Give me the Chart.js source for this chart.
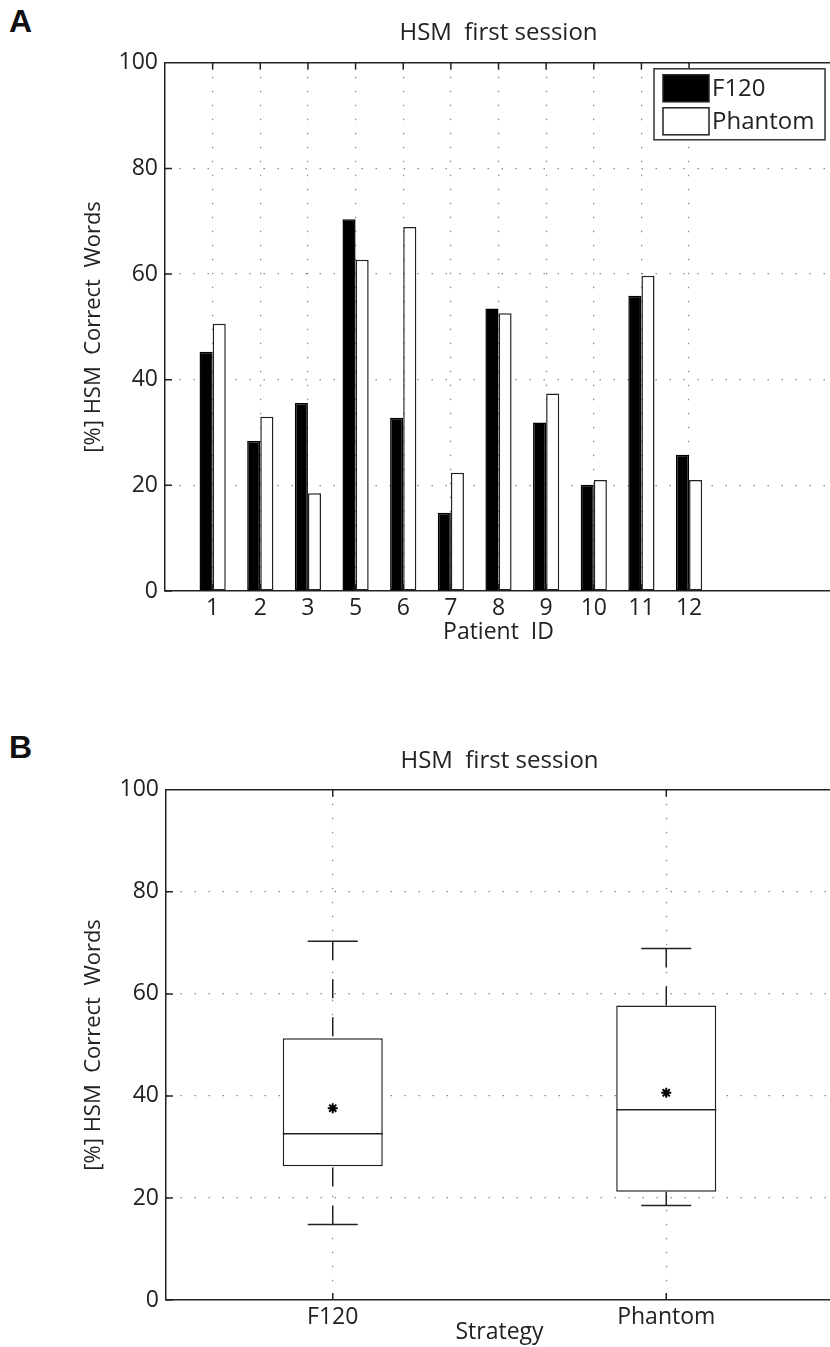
<!DOCTYPE html>
<html>
<head>
<meta charset="utf-8">
<title>HSM first session</title>
<script src="https://cdn.jsdelivr.net/npm/chart.js@4.4.1/dist/chart.umd.min.js"></script>
<style>
    html, body { margin: 0; padding: 0; background: #fff; overflow: hidden; width: 830px; height: 1347px; }
    canvas { position: absolute; left: 0; }
    .panel { position: absolute; left: 9px; font-family: "Liberation Sans", Arial, sans-serif; font-weight: bold; font-size: 32px; color: #111; }
</style>
</head>
<body>
<div class="panel" style="top:3px;">A</div>
<canvas id="bar-chart" width="832" height="660" style="top:0;"></canvas>
<div class="panel" style="top:729px;">B</div>
<canvas id="box-chart" width="840" height="647" style="top:700px;"></canvas>
<script>
// Panel A: percent of correct words per patient
var patientIds = ['1', '2', '3', '5', '6', '7', '8', '9', '10', '11', '12'];
var f120Scores = [45.3, 28.4, 35.6, 70.4, 32.8, 14.8, 53.5, 31.9, 20.1, 55.9, 25.8];
var phantomScores = [50.6, 33.0, 18.5, 62.7, 68.9, 22.4, 52.6, 37.4, 21.0, 59.7, 21.0];
var yTicks = [0, 20, 40, 60, 80, 100];

// Panel B: box plot summary per strategy
var strategies = ['F120', 'Phantom'];
var whiskerLow = [14.8, 18.5];
var quartileLow = [26.2, 21.2];
var medians = [32.6, 37.3];
var quartileHigh = [51.3, 57.7];
var whiskerHigh = [70.3, 68.9];
var means = [37.6, 40.6];

var TITLE = 'HSM  first session';
var Y_LABEL = '[%] HSM  Correct  Words';
var INK = '#222';
var TICK_LEN = 7;

Chart.defaults.font.family = "'Open Sans', 'Noto Sans', sans-serif";
Chart.defaults.font.size = 23;
Chart.defaults.color = INK;
Chart.defaults.animation = false;

var dotted = { color: '#8a8a8a', lineWidth: 1.2, drawTicks: false };

function yScale(areaLeft) {
    return {
        min: 0, max: 100,
        afterBuildTicks: function(scale) { scale.ticks = yTicks.map(v => ({ value: v })); },
        afterFit: function(scale) { scale.width = areaLeft; },
        ticks: { padding: 7, color: INK },
        grid: Object.assign({}, dotted, {
            color: ctx => (ctx.tick && (ctx.tick.value === 0 || ctx.tick.value === 100)) ? 'rgba(0,0,0,0)' : '#8a8a8a'
        }),
        border: { color: INK, width: 1.5, dash: [1.5, 12.5] },
        title: { display: true, text: Y_LABEL, color: INK, font: { size: 22 }, padding: { top: 81, bottom: 0 } }
    };
}

// box, top edge and inward tick marks like a MATLAB axes
var matlabAxes = {
    id: 'matlabAxes',
    afterDraw: function(chart) {
        var ctx = chart.ctx, a = chart.chartArea, x = chart.scales.x, y = chart.scales.y;
        ctx.save();
        ctx.strokeStyle = INK;
        ctx.lineWidth = 1.5;
        ctx.beginPath();
        ctx.moveTo(a.left, a.top);
        ctx.lineTo(a.right, a.top);
        x.ticks.forEach(function(t) {
            var px = x.getPixelForValue(t.value);
            ctx.moveTo(px, a.bottom); ctx.lineTo(px, a.bottom - TICK_LEN);
            ctx.moveTo(px, a.top); ctx.lineTo(px, a.top + TICK_LEN);
        });
        y.ticks.forEach(function(t) {
            var py = y.getPixelForValue(t.value);
            ctx.moveTo(a.left, py); ctx.lineTo(a.left + TICK_LEN, py);
        });
        ctx.stroke();

        // legend box in the upper right corner
        var lg = chart.options.plugins.matlabLegend;
        if (lg && lg.display) {
            var left = a.right - 178, top = a.top + 6;
            ctx.fillStyle = '#fff';
            ctx.fillRect(left, top, 171, 71);
            ctx.strokeStyle = '#333';
            ctx.strokeRect(left, top, 171, 71);
            ctx.font = "24px 'Open Sans', sans-serif";
            ctx.textBaseline = 'middle';
            chart.data.datasets.forEach(function(ds, i) {
                var sy = top + 6 + i * 33;
                ctx.fillStyle = ds.backgroundColor;
                ctx.fillRect(left + 9, sy, 46, 27);
                ctx.strokeStyle = INK;
                ctx.strokeRect(left + 9, sy, 46, 27);
                ctx.fillStyle = INK;
                ctx.fillText(ds.label, left + 58, sy + 14);
            });
        }
        ctx.restore();
    }
};

new Chart(document.getElementById('bar-chart'), {
    type: 'bar',
    data: {
        datasets: [
            {
                label: 'F120',
                data: f120Scores.map((v, i) => ({ x: i + 1, y: v })),
                backgroundColor: '#000',
                borderColor: '#000',
                borderWidth: 1.5,
                borderSkipped: false
            },
            {
                label: 'Phantom',
                data: phantomScores.map((v, i) => ({ x: i + 1, y: v })),
                backgroundColor: '#fff',
                borderColor: INK,
                borderWidth: 1.5,
                borderSkipped: false
            }
        ]
    },
    options: {
        responsive: false,
        categoryPercentage: 0.55,
        barPercentage: 1.0,
        layout: { padding: { left: 0, right: 0, top: 0, bottom: 14 } },
        scales: {
            x: {
                type: 'linear',
                min: 0, max: 14,
                offset: false,
                afterBuildTicks: function(scale) { scale.ticks = patientIds.map((id, i) => ({ value: i + 1 })); },
                afterFit: function(scale) { scale.height = 55; },
                ticks: { padding: 4, maxRotation: 0, autoSkip: false, color: INK, callback: v => patientIds[v - 1] || '' },
                grid: Object.assign({}, dotted, { offset: false }),
                border: { color: INK, width: 1.5, dash: [1.5, 12.5] },
                title: { display: true, text: 'Patient  ID', color: INK, padding: { top: 0, bottom: 0 } }
            },
            y: yScale(165)
        },
        plugins: {
            legend: { display: false },
            tooltip: { enabled: false },
            matlabLegend: { display: true },
            title: {
                display: true, text: TITLE, fullSize: false, color: INK,
                font: { size: 24, weight: 'normal' },
                padding: { top: 19, bottom: 15 }
            }
        }
    },
    plugins: [matlabAxes]
});

// whiskers, caps and median lines of the box plot
var boxParts = {
    id: 'boxParts',
    afterDatasetsDraw: function(chart) {
        var ctx = chart.ctx, x = chart.scales.x, y = chart.scales.y;
        ctx.save();
        ctx.strokeStyle = INK;
        ctx.lineWidth = 1.5;
        strategies.forEach(function(s, i) {
            var cx = x.getPixelForValue(i + 1);
            var halfBox = (x.getPixelForValue(i + 1.15) - cx);
            var halfCap = halfBox / 2;
            // dashed whiskers
            ctx.setLineDash([19, 19]);
            ctx.beginPath();
            ctx.moveTo(cx, y.getPixelForValue(whiskerHigh[i]));
            ctx.lineTo(cx, y.getPixelForValue(quartileHigh[i]));
            ctx.moveTo(cx, y.getPixelForValue(whiskerLow[i]));
            ctx.lineTo(cx, y.getPixelForValue(quartileLow[i]));
            ctx.stroke();
            ctx.setLineDash([]);
            ctx.beginPath();
            [whiskerHigh[i], whiskerLow[i]].forEach(function(v) {
                var py = y.getPixelForValue(v);
                ctx.moveTo(cx - halfCap, py); ctx.lineTo(cx + halfCap, py);
            });
            var pm = y.getPixelForValue(medians[i]);
            ctx.moveTo(cx - halfBox, pm); ctx.lineTo(cx + halfBox, pm);
            ctx.stroke();
        });
        ctx.restore();
    }
};

new Chart(document.getElementById('box-chart'), {
    type: 'bar',
    data: {
        datasets: [
            {
                type: 'scatter',
                label: 'Mean',
                data: means.map((v, i) => ({ x: i + 1, y: v })),
                pointStyle: 'star',
                pointRadius: 5,
                borderColor: '#000',
                backgroundColor: '#000',
                borderWidth: 2
            },
            {
                label: 'Quartiles',
                data: quartileLow.map((v, i) => ({ x: i + 1, y: [v, quartileHigh[i]] })),
                backgroundColor: '#fff',
                borderColor: INK,
                borderWidth: 1.5,
                borderSkipped: false,
                categoryPercentage: 1.0,
                barPercentage: 0.3
            }
        ]
    },
    options: {
        responsive: false,
        layout: { padding: { left: 0, right: 2, top: 0, bottom: 0 } },
        scales: {
            x: {
                type: 'linear',
                min: 0.5, max: 2.5,
                offset: false,
                afterBuildTicks: function(scale) { scale.ticks = strategies.map((s, i) => ({ value: i + 1 })); },
                afterFit: function(scale) { scale.height = 47; },
                ticks: { padding: 4, maxRotation: 0, autoSkip: false, color: INK, callback: v => strategies[v - 1] || '' },
                grid: Object.assign({}, dotted, { offset: false }),
                border: { color: INK, width: 1.5, dash: [1.5, 12.5] },
                title: { display: true, text: 'Strategy', color: INK, padding: { top: 0, bottom: 1 } }
            },
            y: yScale(166)
        },
        plugins: {
            legend: { display: false },
            tooltip: { enabled: false },
            title: {
                display: true, text: TITLE, fullSize: false, color: INK,
                font: { size: 24, weight: 'normal' },
                padding: { top: 47, bottom: 14 }
            }
        }
    },
    plugins: [matlabAxes, boxParts]
});
</script>
</body>
</html>
